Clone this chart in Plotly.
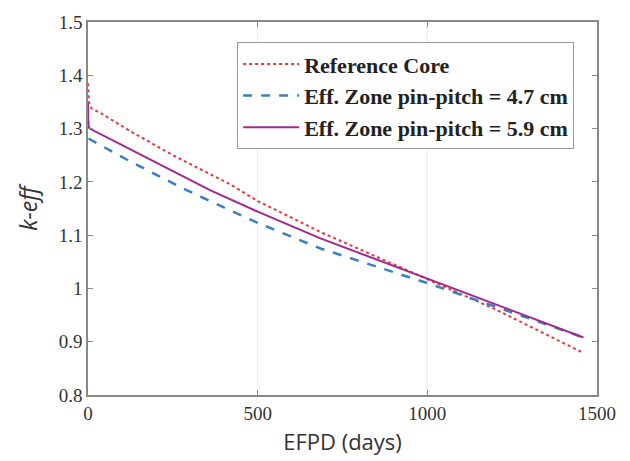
import plotly.graph_objects as go

# EFPD (days) and k-eff for each case
ref_days = [0, 1, 3, 10, 40, 125, 250, 420, 500, 685, 1000, 1200, 1460]
ref_keff = [1.385, 1.360, 1.348, 1.338, 1.328, 1.295, 1.250, 1.195, 1.164, 1.106, 1.017, 0.961, 0.879]

p47_days = [0, 1, 5, 42, 125, 292, 500, 685, 1000, 1200, 1460]
p47_keff = [1.316, 1.290, 1.280, 1.267, 1.238, 1.184, 1.123, 1.075, 1.010, 0.966, 0.908]

p59_days = [0, 1, 5, 40, 125, 361, 500, 685, 1000, 1200, 1460]
p59_keff = [1.347, 1.305, 1.300, 1.289, 1.261, 1.184, 1.144, 1.094, 1.018, 0.971, 0.908]

x_ticks = [0, 500, 1000, 1500]
y_ticks = [0.8, 0.9, 1.0, 1.1, 1.2, 1.3, 1.4, 1.5]
y_labels = ["0.8", "0.9", "1", "1.1", "1.2", "1.3", "1.4", "1.5"]

fig = go.Figure()
fig.add_trace(go.Scatter(x=ref_days, y=ref_keff, mode="lines", name="<b>Reference Core</b>",
                         line=dict(color="#e8363a", width=2, dash="dot")))
fig.add_trace(go.Scatter(x=p47_days, y=p47_keff, mode="lines", name="<b>Eff. Zone pin-pitch = 4.7 cm</b>",
                         line=dict(color="#3a7fc0", width=2.5, dash="dash")))
fig.add_trace(go.Scatter(x=p59_days, y=p59_keff, mode="lines", name="<b>Eff. Zone pin-pitch = 5.9 cm</b>",
                         line=dict(color="#a3288c", width=2)))

fig.add_vline(x=1000, line=dict(color="#999999", width=1, dash="dot"), layer="below")

fig.update_layout(
    width=630, height=461,
    margin=dict(l=80, r=41, t=14, b=74),
    paper_bgcolor="white", plot_bgcolor="white",
    showlegend=True,
    legend=dict(x=0.293, y=0.946, xanchor="left", yanchor="top",
                bgcolor="white", bordercolor="#999999", borderwidth=1,
                font=dict(family="Liberation Serif", size=22, color="#222222"),
                itemwidth=56, tracegroupgap=0),
)
fig.update_xaxes(
    range=[0, 1500], tickvals=x_ticks, ticktext=[str(v) for v in x_ticks],
    showgrid=True, gridcolor="#eeeeee", gridwidth=1,
    showline=True, linecolor="#888888", linewidth=1.5, mirror="ticks",
    ticks="inside", ticklen=5, tickcolor="#888888",
    tickfont=dict(family="Liberation Serif", size=19, color="#333333"),
    title=dict(text="EFPD (days)", font=dict(family="Open Sans", size=22, color="#333333"), standoff=12),
    zeroline=False, automargin=False,
)
fig.update_yaxes(
    range=[0.8, 1.5], tickvals=y_ticks, ticktext=y_labels,
    showgrid=False,
    showline=True, linecolor="#888888", linewidth=1.5, mirror="ticks",
    ticks="inside", ticklen=5, tickcolor="#888888",
    tickfont=dict(family="Liberation Serif", size=19, color="#333333"),
    title=dict(text="<i>k-eff</i>", font=dict(family="Open Sans", size=23, color="#333333"), standoff=15),
    zeroline=False, automargin=False,
)

fig.write_html("out.html")
